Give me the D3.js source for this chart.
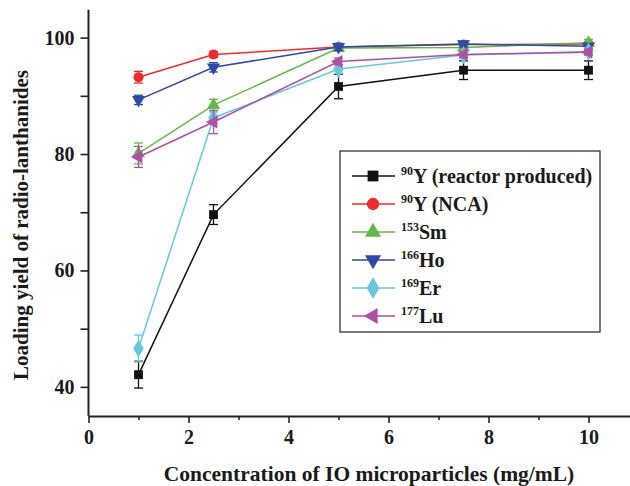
<!DOCTYPE html>
<html>
<head>
<meta charset="utf-8">
<script src="https://cdn.jsdelivr.net/npm/d3@7"></script>
<style>
  body { margin: 0; background: #fff; }
  svg text { font-family: "Liberation Serif", "Times New Roman", serif; font-weight: bold; fill: #1a1a1a; }
</style>
</head>
<body>
<div id="chart"></div>
<script>
// concentrations (mg/mL)
const conc = [1, 2.5, 5, 7.5, 10];

// loading yield (%)
const y90Reactor = [42.1, 69.6, 91.6, 94.4, 94.4];
const y90NCA = [93.2, 97.1, 98.4, 98.8, 98.9];
const sm153 = [80.1, 88.4, 98.2, 98.3, 99.1];
const ho166 = [89.3, 94.9, 98.4, 98.9, 98.5];
const er169 = [46.6, 86.2, 94.6, 97.0, 97.6];
const lu177 = [79.5, 85.5, 95.9, 97.1, 97.5];

// error bars (+/-)
const y90ReactorErr = [2.3, 1.7, 2.1, 1.6, 1.6];
const y90NCAErr = [1.0, 0.5, 0.4, 0.4, 0.4];
const sm153Err = [1.8, 1.0, 0.4, 0.4, 0.6];
const ho166Err = [0.8, 0.8, 0.6, 0.5, 0.4];
const er169Err = [2.3, 1.0, 0.8, 0.6, 0.5];
const lu177Err = [1.8, 2.0, 0.6, 0.5, 0.5];

const isotopes = ['90', '90', '153', '166', '169', '177'];
const names = ['Y (reactor produced)', 'Y (NCA)', 'Sm', 'Ho', 'Er', 'Lu'];

const xTicks = [0, 2, 4, 6, 8, 10];
const yTicks = [40, 60, 80, 100];

const series = [
  { vals: y90Reactor, err: y90ReactorErr, color: '#111111', shape: 'square' },
  { vals: y90NCA, err: y90NCAErr, color: '#ee2b2b', shape: 'circle' },
  { vals: sm153, err: sm153Err, color: '#63b946', shape: 'up' },
  { vals: ho166, err: ho166Err, color: '#2f4aa6', shape: 'down' },
  { vals: er169, err: er169Err, color: '#66c9da', shape: 'diamond' },
  { vals: lu177, err: lu177Err, color: '#b04fa6', shape: 'left' }
];

const width = 630;
const height = 486;

const svg = d3.select('#chart')
  .append('svg')
  .attr('width', width)
  .attr('height', height);

const xScale = d3.scaleLinear().domain([0, 11]).range([88.5, 638.5]);
const yScale = d3.scaleLinear().domain([35, 105]).range([416, 8.5]);

// marker shapes
function symbolPath(shape, k) {
  const types = {
    square: [d3.symbolSquare, 78],
    circle: [d3.symbolCircle, 80],
    up: [d3.symbolTriangle, 75],
    down: [d3.symbolTriangle, 75],
    diamond: [d3.symbolDiamond, 95],
    left: [d3.symbolTriangle, 75]
  };
  const t = types[shape];
  return d3.symbol().type(t[0]).size(t[1] * (k || 1))();
}
function symbolRotate(shape) {
  if (shape === 'down') return ' rotate(180)';
  if (shape === 'left') return ' rotate(-90)';
  return '';
}

// axes
const xAxis = d3.axisBottom(xScale)
  .tickValues(d3.range(0, 11, 1))
  .tickSize(0)
  .tickFormat((d) => (xTicks.includes(d) ? d : ''));
const gx = svg.append('g')
  .attr('transform', `translate(0, ${yScale(35)})`)
  .call(xAxis);
gx.select('.domain').attr('stroke', '#222').attr('stroke-width', 2);
gx.selectAll('.tick line')
  .attr('stroke', '#222').attr('stroke-width', 1.6)
  .attr('y2', (d) => (d % 2 === 0 ? 7 : 4));
gx.selectAll('.tick text')
  .attr('y', 18)
  .attr('dy', '0.5em')
  .style('font-size', '20px');

const yAxis = d3.axisLeft(yScale)
  .tickValues(d3.range(40, 101, 10))
  .tickSize(0)
  .tickFormat((d) => (yTicks.includes(d) ? d : ''));
const gy = svg.append('g')
  .attr('transform', `translate(${xScale(0)}, 0)`)
  .call(yAxis);
gy.select('.domain').attr('stroke', '#222').attr('stroke-width', 2);
gy.selectAll('.tick line')
  .attr('stroke', '#222').attr('stroke-width', 1.6)
  .attr('x2', -8);
gy.selectAll('.tick text')
  .attr('x', -14)
  .style('font-size', '20px');
gy.select('.domain').attr('d', `M0,${yScale(35)}V${yScale(104.8)}`);

// axis titles
svg.append('text')
  .attr('x', 369)
  .attr('y', 481)
  .attr('text-anchor', 'middle')
  .style('font-size', '21.5px')
  .text('Concentration of IO microparticles (mg/mL)');

svg.append('text')
  .attr('transform', 'translate(28, 225) rotate(-90)')
  .attr('text-anchor', 'middle')
  .style('font-size', '21px')
  .text('Loading yield of radio-lanthanides');

// series
const line = d3.line()
  .x((d) => xScale(d[0]))
  .y((d) => yScale(d[1]));

series.forEach((s) => {
  const pts = conc.map((c, i) => [c, s.vals[i], s.err[i]]);
  const g = svg.append('g');
  g.append('path')
    .datum(pts)
    .attr('d', line)
    .attr('fill', 'none')
    .attr('stroke', s.color)
    .attr('stroke-width', 1.5);

  const eb = g.selectAll('.err')
    .data(pts)
    .enter()
    .append('g')
    .attr('stroke', s.color)
    .attr('stroke-width', 1.3);
  eb.append('line')
    .attr('x1', (d) => xScale(d[0])).attr('x2', (d) => xScale(d[0]))
    .attr('y1', (d) => yScale(d[1] - d[2])).attr('y2', (d) => yScale(d[1] + d[2]));
  eb.append('line')
    .attr('x1', (d) => xScale(d[0]) - 4.5).attr('x2', (d) => xScale(d[0]) + 4.5)
    .attr('y1', (d) => yScale(d[1] + d[2])).attr('y2', (d) => yScale(d[1] + d[2]));
  eb.append('line')
    .attr('x1', (d) => xScale(d[0]) - 4.5).attr('x2', (d) => xScale(d[0]) + 4.5)
    .attr('y1', (d) => yScale(d[1] - d[2])).attr('y2', (d) => yScale(d[1] - d[2]));

  g.selectAll('.mark')
    .data(pts)
    .enter()
    .append('path')
    .attr('d', symbolPath(s.shape))
    .attr('transform', (d) => `translate(${xScale(d[0])}, ${yScale(d[1])})${symbolRotate(s.shape)}`)
    .attr('fill', s.color);
});

// legend
const legend = svg.append('g').attr('transform', 'translate(340, 151)');
legend.append('rect')
  .attr('width', 260)
  .attr('height', 181)
  .attr('fill', '#fff')
  .attr('stroke', '#333')
  .attr('stroke-width', 1.3);

series.forEach((s, i) => {
  const yy = 25 + i * 28;
  const row = legend.append('g').attr('transform', `translate(0, ${yy})`);
  row.append('line')
    .attr('x1', 12).attr('x2', 55)
    .attr('stroke', s.color).attr('stroke-width', 1.5);
  row.append('path')
    .attr('d', symbolPath(s.shape, 1.5))
    .attr('transform', `translate(33, 0)${symbolRotate(s.shape)}`)
    .attr('fill', s.color);
  const t = row.append('text')
    .attr('x', 61)
    .attr('y', 7)
    .style('font-size', '20px');
  t.append('tspan')
    .attr('dy', -8)
    .style('font-size', '12px')
    .text(isotopes[i]);
  t.append('tspan')
    .attr('dy', 8)
    .text(names[i]);
});
</script>
</body>
</html>
